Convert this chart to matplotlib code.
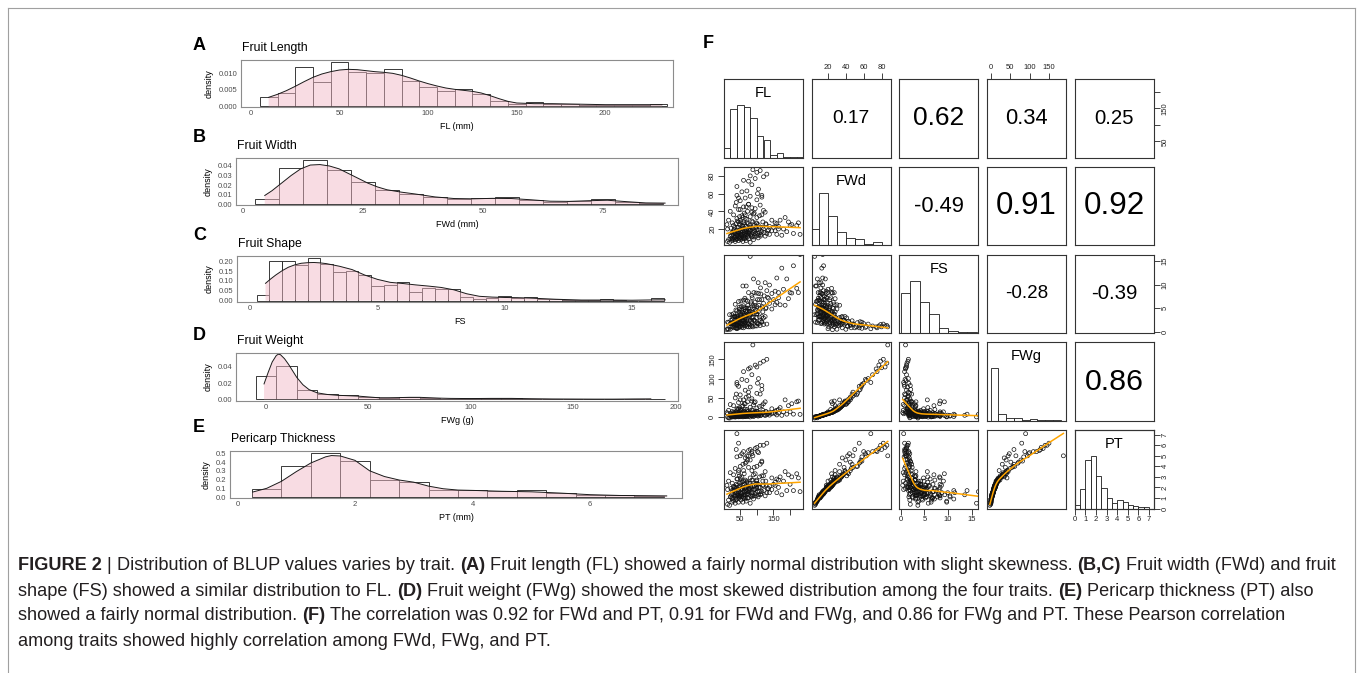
import numpy as np
import matplotlib
matplotlib.use("Agg")
import matplotlib.pyplot as plt
from matplotlib.lines import Line2D

W, H = 1357, 673
plt.rcParams["font.family"] = ["Liberation Sans", "DejaVu Sans"]

# ---------------- panels A-E: density histograms (binwidth, first edge, density per bin)
fl_start, fl_width = 5, 10
fl_density = [0.0029, 0.0040, 0.0119, 0.0074, 0.0133, 0.0104, 0.0101, 0.0111, 0.0077, 0.0059,
              0.0047, 0.0051, 0.0037, 0.0015, 0.0006, 0.0012, 0.0008, 0.0006, 0.0004, 0.0003,
              0.0003, 0.0003, 0.0006]
fl_kde_x = [10, 15, 20, 25, 30, 35, 40, 45, 50, 55, 60, 65, 70, 75, 80, 85, 90, 95, 100, 105,
            110, 115, 120, 125, 130, 135, 140, 145, 150, 160, 170, 180, 190, 200, 210, 220, 232]
fl_kde_y = [0.0027, 0.0036, 0.0047, 0.0060, 0.0074, 0.0087, 0.0097, 0.0104, 0.0109, 0.0111,
            0.0110, 0.0107, 0.0104, 0.0102, 0.0099, 0.0093, 0.0085, 0.0076, 0.0068, 0.0061,
            0.0055, 0.0051, 0.0048, 0.0045, 0.0040, 0.0032, 0.0023, 0.0015, 0.0010, 0.0008,
            0.0008, 0.0007, 0.0006, 0.0005, 0.0005, 0.0005, 0.0005]

fwd_start, fwd_width = 2.5, 5
fwd_density = [0.0056, 0.0379, 0.0467, 0.0361, 0.0228, 0.0144, 0.0110, 0.0074, 0.0056, 0.0063,
               0.0077, 0.0046, 0.0025, 0.0032, 0.0056, 0.0018, 0.0010]
fwd_kde_x = [4.5, 6, 8, 10, 12, 14, 16, 18, 20, 22, 24, 26, 28, 30, 33, 36, 40, 44, 48, 52, 56,
             60, 64, 68, 72, 76, 80, 84, 88]
fwd_kde_y = [0.009, 0.014, 0.022, 0.030, 0.037, 0.041, 0.0415, 0.040, 0.037, 0.032, 0.027, 0.022,
             0.018, 0.015, 0.0125, 0.0105, 0.0075, 0.0058, 0.0055, 0.0060, 0.0058, 0.0045, 0.0030,
             0.0028, 0.0035, 0.0040, 0.0025, 0.0012, 0.0010]

fs_start, fs_width = 0.25, 0.5
fs_density = [0.028, 0.202, 0.202, 0.180, 0.218, 0.188, 0.148, 0.150, 0.128, 0.075, 0.080, 0.093,
              0.042, 0.063, 0.060, 0.058, 0.017, 0.010, 0.015, 0.023, 0.013, 0.017, 0.010, 0.007,
              0.005, 0.002, 0.002, 0.008, 0.002, 0.0, 0.0, 0.012]
fs_kde_x = [0.6, 0.8, 1.0, 1.25, 1.5, 1.75, 2.0, 2.25, 2.5, 2.75, 3.0, 3.5, 4.0, 4.5, 5.0, 5.5,
            6.0, 6.5, 7.0, 7.5, 8.0, 8.5, 9.0, 9.5, 10.0, 10.5, 11.0, 11.5, 12.0, 13.0, 14.0,
            15.0, 16.0, 16.3]
fs_kde_y = [0.088, 0.110, 0.130, 0.152, 0.170, 0.182, 0.190, 0.193, 0.194, 0.192, 0.188, 0.175,
            0.158, 0.130, 0.108, 0.093, 0.087, 0.080, 0.074, 0.067, 0.055, 0.035, 0.022, 0.018,
            0.016, 0.015, 0.013, 0.010, 0.007, 0.003, 0.003, 0.002, 0.004, 0.004]

fwg_start, fwg_width = -5, 10
fwg_density = [0.0283, 0.0410, 0.0120, 0.0060, 0.0050, 0.0030, 0.0020, 0.0030, 0.0020, 0.0010,
               0.0012, 0.0012, 0.0015, 0.0005, 0.0005, 0.0005, 0.0003, 0.0002, 0.0004, 0.0008]
fwg_kde_x = [-1, 1, 3, 5, 6, 7, 9, 11, 13, 15, 18, 21, 25, 30, 35, 40, 45, 50, 55, 60, 65, 70,
             75, 80, 85, 90, 100, 110, 120, 130, 140, 150, 160, 170, 180, 188]
fwg_kde_y = [0.019, 0.033, 0.046, 0.054, 0.0555, 0.055, 0.050, 0.043, 0.035, 0.027, 0.018, 0.012,
             0.008, 0.006, 0.005, 0.0045, 0.004, 0.003, 0.002, 0.002, 0.0022, 0.0025, 0.0025,
             0.002, 0.0015, 0.0012, 0.001, 0.0012, 0.0012, 0.0008, 0.0005, 0.0004, 0.0003,
             0.0003, 0.0005, 0.0006]

pt_start, pt_width = 0.25, 0.5
pt_density = [0.095, 0.356, 0.500, 0.417, 0.193, 0.170, 0.083, 0.083, 0.064, 0.080, 0.045, 0.023,
              0.019, 0.015]
pt_kde_x = [0.26, 0.5, 0.75, 1.0, 1.25, 1.5, 1.6, 1.75, 2.0, 2.25, 2.5, 2.75, 3.0, 3.25, 3.5,
            3.75, 4.0, 4.5, 5.0, 5.5, 6.0, 6.5, 7.0, 7.3]
pt_kde_y = [0.057, 0.100, 0.180, 0.290, 0.390, 0.460, 0.475, 0.470, 0.420, 0.300, 0.235, 0.195,
            0.170, 0.125, 0.095, 0.080, 0.076, 0.066, 0.060, 0.045, 0.027, 0.018, 0.015, 0.013]

fl_xticks = [0, 50, 100, 150, 200]
fwd_xticks = [0, 25, 50, 75]
fs_xticks = [0, 5, 10, 15]
fwg_xticks = [0, 50, 100, 150, 200]
pt_xticks = [0, 2, 4, 6]
fl_yticks = [0.0, 0.005, 0.010]
fwd_yticks = [0.0, 0.01, 0.02, 0.03, 0.04]
fs_yticks = [0.0, 0.05, 0.10, 0.15, 0.20]
fwg_yticks = [0.0, 0.02, 0.04]
pt_yticks = [0.0, 0.1, 0.2, 0.3, 0.4, 0.5]

# ---------------- panel F: per-sample BLUPs (same order in every list)
fl_vals = [12, 18, 25, 30, 35, 40, 45, 52, 60, 68, 80, 22, 15, 48, 75, 33, 90, 58,
           20, 28, 35, 42, 50, 55, 62, 70, 78, 85, 95, 105, 115, 125, 135, 160, 210, 230, 32, 38,
           45, 48, 58, 65, 72, 88, 100, 112, 120, 130, 26, 40, 52, 60, 68, 75, 82, 92, 36, 44,
           56, 64, 24, 30, 46, 54, 66, 76, 98, 108, 145, 175, 190, 165,
           22, 30, 38, 45, 52, 58, 63, 70, 78, 85, 92, 100, 110, 118, 128, 138, 155, 200, 42, 48,
           55, 60, 67, 74, 82, 88, 96, 104, 34, 26, 50,
           40, 55, 62, 70, 80, 90, 100, 115, 125, 48, 65, 85, 108, 30,
           45, 60, 75, 95, 110, 35, 120,
           50, 65, 80, 100, 40, 115,
           70, 40, 75, 95, 120, 60, 88, 130,
           45, 58, 72, 85, 38, 102, 65, 50, 15, 12, 10, 20,
           28, 34, 39, 43, 47, 51, 53, 57, 61, 63, 67, 69, 73, 77, 79, 83, 87, 91, 94, 97,
           102, 106, 111, 117, 122, 127, 132, 138, 25, 31, 37, 41, 49, 56, 64, 71, 81, 86, 99, 104,
           150, 160, 170, 180, 195, 205, 220, 185, 145, 155, 225, 165,
           55, 85, 105, 45, 75, 115, 68, 92,
           100, 80, 110]
fwd_vals = [6, 5, 7, 8, 6, 9, 7, 8, 9, 7, 5, 9, 8, 10, 9, 10, 8, 6,
            12, 14, 11, 13, 15, 12, 16, 14, 18, 11, 15, 13, 17, 12, 19, 14, 15, 14, 16, 18,
            17, 19, 20, 13, 11, 16, 19, 14, 20, 15, 10, 12, 14, 11, 17, 15, 13, 18, 15, 16,
            18, 19, 13, 17, 11, 13, 15, 19, 12, 16, 18, 13, 17, 20,
            21, 24, 26, 22, 28, 23, 25, 27, 21, 29, 24, 26, 22, 28, 25, 23, 27, 24, 29, 25,
            21, 27, 23, 26, 22, 28, 21, 25, 22, 27, 30,
            32, 35, 38, 31, 34, 37, 33, 36, 39, 34, 32, 39, 35, 36,
            42, 45, 48, 43, 47, 46, 41,
            52, 55, 57, 53, 58, 56,
            63, 68, 74, 77, 79, 75, 87, 82,
            28, 33, 40, 44, 50, 60, 36, 42, 30, 20, 25, 40,
            9, 11, 13, 15, 9, 17, 10, 14, 12, 18, 10, 20, 13, 16, 24, 14, 21, 11, 17, 23,
            15, 19, 12, 22, 16, 26, 18, 14, 16, 19, 8, 22, 12, 24, 9, 16, 19, 12, 27, 10,
            22, 26, 30, 20, 28, 25, 24, 33, 30, 18, 27, 23,
            62, 70, 65, 55, 48, 58, 45, 38,
            84, 80, 86]
fs_vals = [2.0, 3.6, 3.6, 3.8, 5.8, 4.4, 6.4, 6.5, 6.7, 9.7, 16.0, 2.4, 1.9, 4.8, 8.3, 3.3, 11.2, 9.7,
           1.7, 2.0, 3.2, 3.2, 3.3, 4.6, 3.9, 5.0, 4.3, 7.7, 6.3, 8.1, 6.8, 10.4, 7.1, 11.4, 14.0, 16.4,
           2.0, 2.1, 2.6, 2.5, 2.9, 5.0, 6.5, 5.5, 5.3, 8.0, 6.0, 8.7, 2.6, 3.3, 3.7, 5.5, 4.0, 5.0,
           6.3, 5.1, 2.4, 2.8, 3.1, 3.4, 1.8, 1.8, 4.2, 4.2, 4.4, 4.0, 8.2, 6.8, 8.1, 13.5, 11.2, 8.3,
           1.0, 1.3, 1.5, 2.0, 1.9, 2.5, 2.5, 2.6, 3.7, 2.9, 3.8, 3.8, 5.0, 4.2, 5.1, 6.0, 5.7, 8.3,
           1.4, 1.9, 2.6, 2.2, 2.9, 2.8, 3.7, 3.1, 4.6, 4.2, 1.5, 1.0, 1.7,
           1.3, 1.6, 1.6, 2.3, 2.4, 2.4, 3.0, 3.2, 3.2, 1.4, 2.0, 2.2, 3.1, 0.8,
           1.1, 1.3, 1.6, 2.2, 2.3, 0.8, 2.9,
           1.0, 1.2, 1.4, 1.9, 0.7, 2.1,
           1.1, 0.6, 1.0, 1.2, 1.5, 0.8, 1.0, 1.6,
           1.6, 1.8, 1.8, 1.9, 0.8, 1.7, 1.8, 1.2, 0.5, 0.6, 0.4, 0.5,
           3.1, 3.1, 3.0, 2.9, 5.2, 3.0, 5.3, 4.1, 5.1, 3.5, 6.7, 3.5, 5.6, 4.8, 3.3, 5.9, 4.1, 8.3,
           5.5, 4.2, 6.8, 5.6, 9.3, 5.3, 7.6, 4.9, 7.3, 9.9, 1.6, 1.6, 4.6, 1.9, 4.1, 2.3, 7.1, 4.4,
           4.3, 7.2, 3.7, 10.4,
           6.8, 6.2, 5.7, 9.0, 7.0, 8.2, 9.2, 5.6, 4.8, 8.6, 8.3, 7.2,
           0.9, 1.2, 1.6, 0.8, 1.6, 2.0, 1.5, 2.4,
           1.2, 1.0, 1.3]
fwg_vals = [0.3, -2.0, 0.6, 1.0, 0.5, 1.5, 1.0, 1.2, 2.0, 1.5, 0.8, 1.8, -1.5, 2.5, 2.2, 2.0, 1.9, 1.0,
            3.5, 5.0, 3.0, 4.5, 6.0, 4.0, 7.0, 5.5, 9.0, 3.5, 6.5, 5.0, 8.0, 4.5, 10.0, 6.0, 8.0, 7.5,
            6.5, 8.5, 7.5, 9.5, 11.0, 4.8, 3.2, 7.0, 9.0, 5.5, 11.5, 6.5, 2.8, 4.0, 5.0, 3.5, 8.0, 6.0,
            5.0, 8.5, 6.0, 7.0, 8.0, 10.0, 4.5, 8.0, 3.0, 4.5, 6.0, 9.5, 4.0, 7.0, 9.0, 5.0, 8.0, 11.0,
            11, 13, 15, 12, 18, 12, 14, 16, 10, 19, 13, 15, 11, 18, 14, 12, 16, 14, 20, 14,
            10, 16, 12, 15, 11, 17, 10, 14, 11, 15, 20,
            22, 28, 35, 20, 26, 32, 24, 30, 40, 25, 21, 42, 28, 30,
            38, 45, 55, 40, 60, 50, 35,
            58, 70, 78, 62, 85, 72,
            95, 90, 125, 135, 145, 118, 187, 150,
            22, 30, 40, 48, 60, 88, 35, 45, 18, 9, 12, 33,
            1.5, 3.0, 4.5, 6.0, 1.8, 7.5, 2.5, 5.5, 4.0, 8.0, 2.5, 10.0, 5.0, 7.0, 13.0, 5.5, 11.0, 3.5,
            8.0, 12.0, 6.5, 9.5, 4.0, 12.0, 7.0, 15.0, 9.0, 5.5, 7.0, 9.5, 1.2, 12.0, 4.0, 14.0, 2.0,
            7.0, 9.5, 4.0, 16.0, 3.0,
            12, 18, 25, 14, 30, 35, 40, 45, 22, 10, 42, 20,
            98, 110, 100, 80, 65, 82, 52, 38,
            130, 128, 140]
pt_vals = [0.4, 0.3, 0.6, 0.7, 0.5, 0.9, 0.6, 0.8, 1.0, 0.7, 0.5, 1.1, 0.8, 1.2, 1.0, 1.3, 0.9, 0.6,
           1.1, 1.4, 1.0, 1.3, 1.5, 1.2, 1.6, 1.4, 1.8, 1.1, 1.4, 1.3, 1.6, 1.2, 1.9, 1.5, 1.7, 1.6,
           1.7, 2.0, 1.8, 2.1, 2.0, 1.3, 1.0, 1.5, 1.9, 1.4, 2.2, 1.5, 1.0, 1.2, 1.3, 1.1, 1.7, 1.6,
           1.2, 1.8, 1.5, 1.6, 1.9, 2.0, 1.3, 1.8, 1.1, 1.4, 1.5, 1.9, 1.2, 1.6, 1.8, 1.3, 1.7, 2.0,
           1.9, 2.1, 2.3, 2.0, 2.5, 2.2, 2.3, 2.5, 1.9, 2.7, 2.1, 2.4, 2.0, 2.6, 2.2, 2.1, 2.5, 2.3,
           2.8, 2.4, 1.8, 2.6, 2.0, 2.4, 2.1, 2.7, 1.9, 2.3, 2.0, 2.4, 2.9,
           2.8, 3.0, 3.3, 2.6, 2.9, 3.2, 2.7, 3.1, 3.5, 3.1, 2.7, 3.6, 3.0, 3.2,
           3.4, 3.6, 3.9, 3.3, 4.2, 3.8, 3.1,
           4.0, 4.3, 4.6, 4.0, 4.9, 4.4,
           5.0, 7.1, 5.5, 5.7, 6.0, 5.4, 5.0, 6.2,
           3.6, 4.2, 4.6, 5.2, 5.6, 5.4, 4.8, 5.0, 2.6, 1.8, 2.2, 3.4,
           0.9, 1.2, 1.5, 1.4, 1.0, 1.8, 1.1, 1.5, 1.3, 1.9, 1.0, 2.1, 1.4, 1.7, 2.4, 1.5, 2.2, 1.2,
           1.8, 2.3, 1.6, 2.0, 1.3, 2.2, 1.7, 2.6, 1.9, 1.5, 1.7, 2.0, 0.8, 2.2, 1.2, 2.5, 0.9, 1.6,
           2.0, 1.3, 2.6, 1.1,
           2.3, 2.8, 3.0, 2.6, 3.2, 3.0, 3.3, 3.5, 2.9, 2.2, 2.9, 2.7,
           5.2, 5.4, 5.3, 6.2, 5.0, 4.5, 4.4, 3.9,
           5.8, 5.6, 6.0]

trait_names = ["FL", "FWd", "FS", "FWg", "PT"]
# pearson r, upper triangle row by row
cor_vals = [0.17, 0.62, 0.34, 0.25, -0.49, 0.91, 0.92, -0.28, -0.39, 0.86]

# diagonal histograms of panel F: first break, bin width, bar height relative to tallest
fl_diag_start, fl_diag_width = 0, 20
fl_diag = [0.19, 0.92, 1.0, 0.96, 0.76, 0.42, 0.33, 0.04, 0.08, 0.01, 0.01, 0.01]
fwd_diag_start, fwd_diag_width = 0, 10
fwd_diag = [0.31, 1.0, 0.55, 0.25, 0.13, 0.11, 0.03, 0.06, 0.01]
fs_diag_start, fs_diag_width = 0, 2
fs_diag = [0.77, 1.0, 0.59, 0.36, 0.09, 0.04, 0.01, 0.02]
fwg_diag_start, fwg_diag_width = 0, 20
fwg_diag = [1.0, 0.12, 0.06, 0.045, 0.013, 0.03, 0.006, 0.006, 0.006]
pt_diag_start, pt_diag_width = 0, 0.5
pt_diag = [0.06, 0.37, 0.92, 1.0, 0.62, 0.39, 0.21, 0.11, 0.16, 0.13, 0.06, 0.045, 0.02, 0.02]

fl_pair_ticks = [50, 100, 150, 200]
fl_pair_labels = ["50", "", "150", ""]
fwd_pair_ticks = [20, 40, 60, 80]
fs_pair_ticks = [0, 5, 10, 15]
fwg_pair_ticks = [0, 50, 100, 150]
pt_pair_ticks = [0, 1, 2, 3, 4, 5, 6, 7]

caption_lines = [
    [("FIGURE 2", True), (" | ", False), ("Distribution of BLUP values varies by trait. ", False),
     ("(A)", True), (" Fruit length (FL) showed a fairly normal distribution with slight skewness. ", False),
     ("(B,C)", True), (" Fruit width (FWd) and fruit", False)],
    [("shape (FS) showed a similar distribution to FL. ", False), ("(D)", True),
     (" Fruit weight (FWg) showed the most skewed distribution among the four traits. ", False),
     ("(E)", True), (" Pericarp thickness (PT) also", False)],
    [("showed a fairly normal distribution. ", False), ("(F)", True),
     (" The correlation was 0.92 for FWd and PT, 0.91 for FWd and FWg, and 0.86 for FWg and PT. "
      "These Pearson correlation", False)],
    [("among traits showed highly correlation among FWd, FWg, and PT.", False)],
]


def px_rect(x0, y0, x1, y1):
    return [x0 / W, 1 - y1 / H, (x1 - x0) / W, (y1 - y0) / H]


def fx(x):
    return x / W


def fy(y):
    return 1 - y / H


def lowess(x, y, f=2 / 3, iters=3):
    order = np.argsort(x, kind="stable")
    x = np.asarray(x, float)[order]
    y = np.asarray(y, float)[order]
    n = len(x)
    r = max(min(int(np.ceil(f * n)), n), 2)
    robust = np.ones(n)
    fit = np.zeros(n)
    for _ in range(iters + 1):
        for i in range(n):
            d = np.abs(x - x[i])
            h = max(np.sort(d)[r - 1], 1e-9)
            w = np.clip(d / h, 0, 1)
            w = (1 - w ** 3) ** 3 * robust
            sw = w.sum()
            mx = (w * x).sum() / sw
            my = (w * y).sum() / sw
            vx = (w * (x - mx) ** 2).sum()
            b = (w * (x - mx) * (y - my)).sum() / vx if vx > 1e-12 else 0.0
            fit[i] = my + b * (x[i] - mx)
        res = y - fit
        s = np.median(np.abs(res))
        if s == 0:
            break
        u = np.clip(res / (6 * s), -1, 1)
        robust = (1 - u ** 2) ** 2
    return x, fit


fig = plt.figure(figsize=(W / 100, H / 100), dpi=100)

# thin frame around the figure
frame_kw = dict(color="#a0a0a0", lw=0.8, transform=fig.transFigure)
fig.add_artist(Line2D([fx(8), fx(8)], [fy(8), 0], **frame_kw))
fig.add_artist(Line2D([fx(8), fx(1355)], [fy(8), fy(8)], **frame_kw))
fig.add_artist(Line2D([fx(1355), fx(1355)], [fy(8), 0], **frame_kw))

# ---------------- panels A-E
left_panels = [
    ("A", 45, "Fruit Length", "FL (mm)", (241, 60, 673, 107), (-5.6, 238.2), (-0.0002, 0.0139),
     fl_start, fl_width, fl_density, fl_kde_x, fl_kde_y, fl_xticks, fl_yticks, "%.3f"),
    ("B", 138, "Fruit Width", "FWd (mm)", (236, 158, 678, 205), (-1.5, 90.7), (-0.001, 0.0484),
     fwd_start, fwd_width, fwd_density, fwd_kde_x, fwd_kde_y, fwd_xticks, fwd_yticks, "%.2f"),
    ("C", 235, "Fruit Shape", "FS", (237, 256, 683, 302), (-0.52, 17.0), (-0.007, 0.227),
     fs_start, fs_width, fs_density, fs_kde_x, fs_kde_y, fs_xticks, fs_yticks, "%.2f"),
    ("D", 335, "Fruit Weight", "FWg (g)", (236, 353, 678, 401), (-14.7, 201.3), (-0.002, 0.057),
     fwg_start, fwg_width, fwg_density, fwg_kde_x, fwg_kde_y, fwg_xticks, fwg_yticks, "%.2f"),
    ("E", 427, "Pericarp Thickness", "PT (mm)", (230, 451, 682, 498), (-0.125, 7.56), (-0.011, 0.527),
     pt_start, pt_width, pt_density, pt_kde_x, pt_kde_y, pt_xticks, pt_yticks, "%.1f"),
]

for (letter, ly, title, xlab, box, xlim, ylim, start, width, dens, kx, ky,
     xticks, yticks, yfmt) in left_panels:
    ax = fig.add_axes(px_rect(*box))
    lefts = start + width * np.arange(len(dens))
    ax.bar(lefts, dens, width=width, align="edge", facecolor="white",
           edgecolor="#1a1a1a", linewidth=0.6)
    ax.fill_between(kx, 0, ky, facecolor="#F3BBC9", alpha=0.5, edgecolor="none")
    ax.plot(kx, ky, color="#1a1a1a", lw=0.7)
    ax.set_xlim(*xlim)
    ax.set_ylim(*ylim)
    ax.set_xticks(xticks)
    ax.set_yticks(yticks)
    ax.set_yticklabels([yfmt % v for v in yticks])
    ax.tick_params(length=0, pad=2.5, labelsize=5.5, colors="#4d4d4d")
    for sp in ax.spines.values():
        sp.set_color("#8c8c8c")
        sp.set_linewidth(0.8)
    ax.set_xlabel(xlab, fontsize=6.5, labelpad=3)
    ax.set_ylabel("density", fontsize=6.5, labelpad=4)
    fig.text(fx(box[0] + 1), fy(box[1] - 12), title, fontsize=8.8, ha="left", va="center")
    fig.text(fx(193), fy(ly), letter, fontsize=13, fontweight="bold", ha="left", va="center")

# ---------------- panel F: pairs plot
fig.text(fx(703), fy(43), "F", fontsize=13, fontweight="bold", ha="left", va="center")

traits = [np.array(v, float) for v in (fl_vals, fwd_vals, fs_vals, fwg_vals, pt_vals)]
diag_data = [(fl_diag_start, fl_diag_width, fl_diag), (fwd_diag_start, fwd_diag_width, fwd_diag),
             (fs_diag_start, fs_diag_width, fs_diag), (fwg_diag_start, fwg_diag_width, fwg_diag),
             (pt_diag_start, pt_diag_width, pt_diag)]
pair_ticks = [(fl_pair_ticks, fl_pair_labels), (fwd_pair_ticks, None), (fs_pair_ticks, None),
              (fwg_pair_ticks, None), (pt_pair_ticks, None)]
lims = [(1.2, 238.8), (1.7, 90.3), (-0.3, 16.4), (-9, 194), (0.0, 7.45)]

col_x0 = [724, 811.7, 899.4, 987.1, 1074.8]
row_y0 = [79, 166.75, 254.5, 342.25, 430]
cw, ch = 79, 78.5
tick_kw = dict(length=4.5, width=0.6, labelsize=5.5, pad=1.2, colors="#222222")


def set_ticks(axis, k):
    ticks, labels = pair_ticks[k]
    axis.set_ticks(ticks)
    axis.set_ticklabels(labels if labels else [str(t) for t in ticks])


cor_iter = iter(cor_vals)
for i in range(5):
    for j in range(5):
        ax = fig.add_axes(px_rect(col_x0[j], row_y0[i], col_x0[j] + cw, row_y0[i] + ch))
        ax.set_xlim(*lims[j])
        if i == j:
            st, wd, rel = diag_data[i]
            lefts = st + wd * np.arange(len(rel))
            ax.bar(lefts, rel, width=wd, align="edge", facecolor="white",
                   edgecolor="#1a1a1a", linewidth=0.6)
            ax.set_ylim(0, 1.5)
            ax.text(0.5, 0.82, trait_names[i], transform=ax.transAxes, fontsize=10.5,
                    ha="center", va="center")
        else:
            ax.set_ylim(*lims[i])
        if i > j:
            ax.scatter(traits[j], traits[i], s=8, facecolors="none", edgecolors="#111111",
                       linewidths=0.5)
            sx, sy = lowess(traits[j], traits[i])
            ax.plot(sx, sy, color="#FFA500", lw=1.1)
        if i < j:
            r = next(cor_iter)
            size = 23.5 * (1 + abs(r)) / 2 * (0.9 if r < 0 else 1.0)
            ax.text(0.5, 0.5, f"{r:.2f}", transform=ax.transAxes, fontsize=size,
                    ha="center", va="center")
        ax.set_xticks([])
        ax.set_yticks([])
        for sp in ax.spines.values():
            sp.set_color("#333333")
            sp.set_linewidth(0.8)
        if i == 0 and j in (1, 3):
            ax.xaxis.set_ticks_position("top")
            set_ticks(ax.xaxis, j)
            ax.tick_params(axis="x", **tick_kw)
        if i == 4 and j in (0, 2, 4):
            set_ticks(ax.xaxis, j)
            ax.tick_params(axis="x", **tick_kw)
        if j == 0 and i in (1, 3):
            set_ticks(ax.yaxis, i)
            ax.tick_params(axis="y", labelrotation=90, **tick_kw)
            for lab in ax.get_yticklabels():
                lab.set_va("center")
        if j == 4 and i in (0, 2, 4):
            tax = ax.twinx() if i == j else ax
            if i == j:
                tax.set_ylim(*lims[i])
                for sp in tax.spines.values():
                    sp.set_color("#333333")
                    sp.set_linewidth(0.8)
            tax.yaxis.set_ticks_position("right")
            set_ticks(tax.yaxis, i)
            tax.tick_params(axis="y", labelrotation=90, **tick_kw)
            for lab in tax.get_yticklabels():
                lab.set_va("center")

# ---------------- caption with bold/regular runs
renderer = fig.canvas.get_renderer()
cap_color = "#231f20"


def text_width(s, bold, size):
    t = fig.text(0, 0, s, fontsize=size, fontweight="bold" if bold else "normal")
    w = t.get_window_extent(renderer=renderer).width
    t.remove()
    return w


def run_width(segs, size):
    total = 0.0
    for s, bold in segs:
        total += text_width("x" + s + "x", bold, size) - text_width("xx", bold, size)
    return total


cap_size = 10.0
cap_size *= (1337 - 18) / run_width(caption_lines[0], cap_size)

cap_y = [566, 591, 616, 641]
for segs, yline in zip(caption_lines, cap_y):
    x = 18.0
    for s, bold in segs:
        sp_w = text_width("x x", bold, cap_size) - text_width("xx", bold, cap_size)
        lead = len(s) - len(s.lstrip(" "))
        trail = len(s) - len(s.rstrip(" "))
        core = s.strip(" ")
        x += lead * sp_w
        t = fig.text(fx(x), fy(yline), core, fontsize=cap_size, ha="left", va="center",
                     fontweight="bold" if bold else "normal", color=cap_color)
        x += t.get_window_extent(renderer=renderer).width + trail * sp_w

fig.savefig("out.png", dpi=100)
